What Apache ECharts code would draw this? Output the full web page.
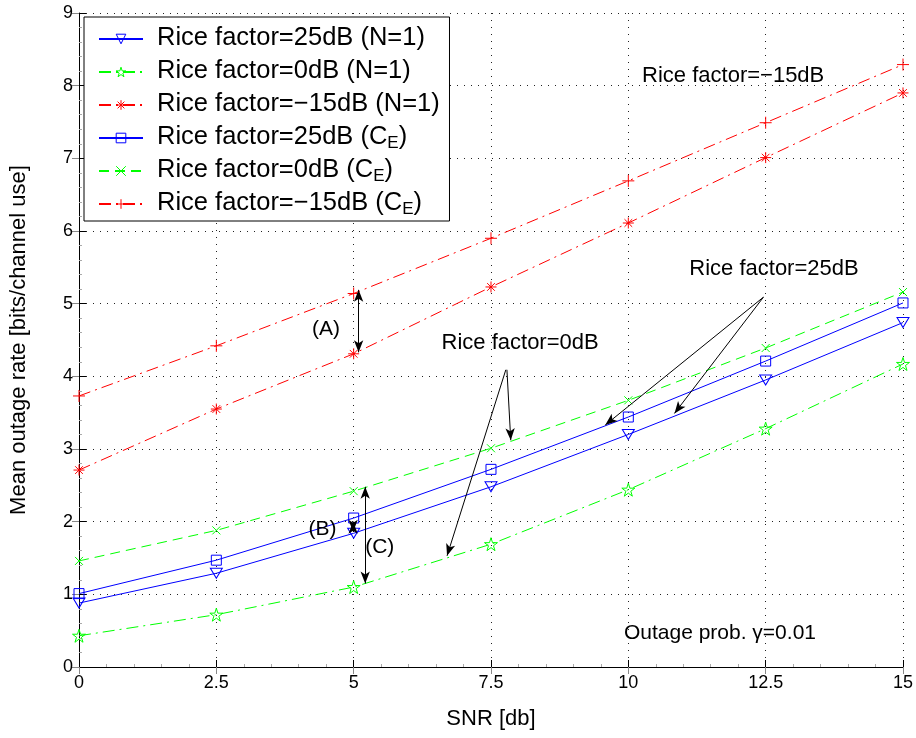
<!DOCTYPE html>
<html>
<head>
<meta charset="utf-8">
<script src="https://cdn.jsdelivr.net/npm/echarts@6/dist/echarts.min.js"></script>
<style>
  html, body { margin: 0; padding: 0; background: #fff; }
  #chart { width: 916px; height: 738px; }
</style>
</head>
<body>
<div id="chart"></div>
<script>
// SNR grid (dB)
const snr = [0, 2.5, 5, 7.5, 10, 12.5, 15];

// Mean outage rate, single antenna (N=1)
const rice25N1  = [0.88, 1.29, 1.84, 2.48, 3.20, 3.95, 4.74];
const rice0N1   = [0.43, 0.72, 1.10, 1.69, 2.44, 3.28, 4.17];
const riceM15N1 = [2.71, 3.55, 4.31, 5.23, 6.11, 7.01, 7.90];

// Mean outage rate, ergodic capacity bound (C_E)
const rice25CE  = [1.01, 1.47, 2.05, 2.72, 3.44, 4.21, 5.01];
const rice0CE   = [1.46, 1.88, 2.42, 3.01, 3.67, 4.39, 5.16];
const riceM15CE = [3.73, 4.42, 5.14, 5.90, 6.69, 7.49, 8.29];

const seriesNames = [
  'Rice factor=25dB (N=1)',
  'Rice factor=0dB (N=1)',
  'Rice factor=\u221215dB (N=1)',
  'Rice factor=25dB (CE)',
  'Rice factor=0dB (CE)',
  'Rice factor=\u221215dB (CE)'
];

const FONT = '"Liberation Sans", Arial, Helvetica, sans-serif';
const BLUE = '#0000ff', GREEN = '#00ff00', RED = '#ff0000';
const DASH = [10, 6];
const DASHDOT = [12, 5, 2, 5];
const CLEAR = 'rgba(0,0,0,0)';

// marker outlines
function pentagram() {
  let d = '';
  for (let i = 0; i < 10; i++) {
    const r = i % 2 ? 38.2 : 100;
    const a = (-90 + i * 36) * Math.PI / 180;
    d += (i ? 'L' : 'M') + (100 + r * Math.cos(a)).toFixed(2) + ' ' + (100 + r * Math.sin(a)).toFixed(2);
  }
  return 'path://' + d + 'Z';
}
const SYM_PLUS = 'path://M5 0L5 10M0 5L10 5';
const SYM_X = 'path://M0 0L10 10M10 0L0 10';
const SYM_AST = 'path://M5 0L5 10M0 5L10 5M1.5 1.5L8.5 8.5M8.5 1.5L1.5 8.5';
const SYM_SQUARE = 'path://M0 0L10 0L10 10L0 10Z';

function pairs(ys) { return snr.map((x, i) => [x, ys[i]]); }

const styles = [
  { color: BLUE,  dash: 'solid', symbol: 'triangle',  size: [12, 10], rotate: 180 },
  { color: GREEN, dash: DASHDOT, symbol: pentagram(), size: 13 },
  { color: RED,   dash: DASHDOT, symbol: SYM_AST,     size: 11 },
  { color: BLUE,  dash: 'solid', symbol: SYM_SQUARE,  size: 10 },
  { color: GREEN, dash: DASH,    symbol: SYM_X,       size: 8 },
  { color: RED,   dash: DASHDOT, symbol: SYM_PLUS,    size: 12 }
];
const values = [rice25N1, rice0N1, riceM15N1, rice25CE, rice0CE, riceM15CE];

const series = values.map((ys, i) => {
  const s = styles[i];
  return {
    name: seriesNames[i],
    type: 'line',
    data: pairs(ys),
    symbol: s.symbol,
    symbolSize: s.size,
    symbolRotate: s.rotate || 0,
    showAllSymbol: true,
    lineStyle: { color: s.color, width: 1, type: s.dash },
    itemStyle: { color: CLEAR, borderColor: s.color, borderWidth: 1 },
    emphasis: { disabled: true },
    animation: false,
    z: 3
  };
});

// Annotation arrows (data coordinates)
const arrows = [
  { from: [5.09, 5.19], to: [5.09, 4.33], both: true },   // (A)
  { from: [4.99, 2.00], to: [4.99, 1.86], both: true },   // (B)
  { from: [5.21, 2.48], to: [5.21, 1.15], both: true },   // (C)
  { from: [7.77, 4.09], to: [6.70, 1.53] },
  { from: [7.79, 4.09], to: [7.86, 3.12] },
  { from: [12.46, 5.09], to: [9.58, 3.33] },
  { from: [12.46, 5.09], to: [10.84, 3.49] }
];

series[0].markLine = {
  silent: true,
  animation: false,
  symbolSize: [7, 12],
  label: { show: false },
  lineStyle: { color: '#000', width: 1, type: 'solid' },
  emphasis: { disabled: true },
  data: arrows.map(a => [
    { coord: a.from, symbol: a.both ? 'arrow' : 'none' },
    { coord: a.to, symbol: 'arrow' }
  ])
};

// Annotation texts (data coordinates, left-aligned, vertically centered)
const notes = [
  { text: 'Rice factor=\u221215dB', at: [10.25, 8.13], size: 22 },
  { text: 'Rice factor=25dB', at: [11.11, 5.48], size: 22 },
  { text: 'Rice factor=0dB', at: [6.60, 4.46], size: 22 },
  { text: '(A)', at: [4.24, 4.65], size: 21 },
  { text: '(B)', at: [4.18, 1.90], size: 21 },
  { text: '(C)', at: [5.21, 1.655], size: 21 },
  { text: 'Outage prob. \u03b3=0.01', at: [9.92, 0.47], size: 21 }
];

const gridLine = { show: true, lineStyle: { color: '#222', width: 1, type: [1, 6] } };

const option = {
  backgroundColor: '#fff',
  animation: false,
  textStyle: { fontFamily: FONT },
  grid: { left: 79, right: 11, top: 13, bottom: 71, containLabel: false },
  legend: {
    data: seriesNames.map((n, i) => ({
      name: n,
      itemStyle: { color: CLEAR, borderColor: styles[i].color, borderWidth: 1 }
    })),
    orient: 'vertical',
    left: 84,
    top: 17,
    padding: [7, 5, 3, 14],
    itemWidth: 44,
    itemHeight: 12,
    itemGap: 4,
    itemTextGap: 5,
    backgroundColor: '#fff',
    borderColor: '#000',
    borderWidth: 1,
    borderRadius: 0,
    selectedMode: false,
    z: 10,
    formatter: function (name) {
      const m = name.match(/^(.*)\(CE\)$/);
      if (m) return '{h|' + m[1] + '(C}{s|E}{t|)}';
      return '{h|' + name + '}{s| }';
    },
    textStyle: {
      fontFamily: FONT,
      fontSize: 25.5,
      color: '#000',
      rich: {
        h: { fontFamily: FONT, fontSize: 25.5, lineHeight: 28, color: '#000', verticalAlign: 'top', padding: [0, 0, 0, 9] },
        t: { fontFamily: FONT, fontSize: 25.5, lineHeight: 28, color: '#000', verticalAlign: 'top' },
        s: { fontFamily: FONT, fontSize: 17, lineHeight: 16, color: '#000', verticalAlign: 'bottom', padding: [12, 0, 0, 0] }
      }
    }
  },
  xAxis: [
    {
      type: 'value', min: 0, max: 15, interval: 2.5,
      name: 'SNR [db]', nameLocation: 'middle', nameGap: 41,
      nameTextStyle: { fontFamily: FONT, fontSize: 22, color: '#000' },
      axisLine: { show: true, onZero: false, lineStyle: { color: '#000', width: 1 } },
      axisTick: { show: true, inside: true, length: 7, lineStyle: { color: '#000' } },
      minorTick: { show: true, splitNumber: 5, length: 3, lineStyle: { color: '#aaa' } },
      axisLabel: { fontFamily: FONT, fontSize: 18, color: '#000', margin: 7 },
      splitLine: gridLine
    },
    {
      type: 'value', min: 0, max: 15, interval: 2.5, position: 'top',
      axisLine: { show: false },
      axisTick: { show: true, inside: true, length: 7, lineStyle: { color: '#888' } },
      axisLabel: { show: false },
      splitLine: { show: false }
    }
  ],
  yAxis: [
    {
      type: 'value', min: 0, max: 9, interval: 1,
      name: 'Mean outage rate [bits/channel use]', nameLocation: 'middle', nameGap: 49,
      nameTextStyle: { fontFamily: FONT, fontSize: 22, color: '#000' },
      axisLine: { show: true, onZero: false, lineStyle: { color: '#000', width: 1 } },
      axisTick: { show: true, inside: true, length: 7, lineStyle: { color: '#000' } },
      minorTick: { show: true, splitNumber: 5, length: 3, lineStyle: { color: '#aaa' } },
      axisLabel: { fontFamily: FONT, fontSize: 18, color: '#000', margin: 6 },
      splitLine: gridLine
    },
    {
      type: 'value', min: 0, max: 9, interval: 1, position: 'right',
      axisLine: { show: false },
      axisTick: { show: true, inside: true, length: 7, lineStyle: { color: '#888' } },
      axisLabel: { show: false },
      splitLine: { show: false }
    }
  ],
  series: series
};

const chart = echarts.init(document.getElementById('chart'), null, { renderer: 'canvas' });
chart.setOption(option);

chart.setOption({
  graphic: notes.map(n => {
    const p = chart.convertToPixel({ xAxisIndex: 0, yAxisIndex: 0 }, n.at);
    return {
      type: 'text',
      x: p[0], y: p[1],
      silent: true,
      z: 20,
      style: {
        text: n.text,
        font: n.size + 'px ' + FONT,
        fill: '#000',
        align: 'left',
        verticalAlign: 'middle'
      }
    };
  })
});
</script>
</body>
</html>
